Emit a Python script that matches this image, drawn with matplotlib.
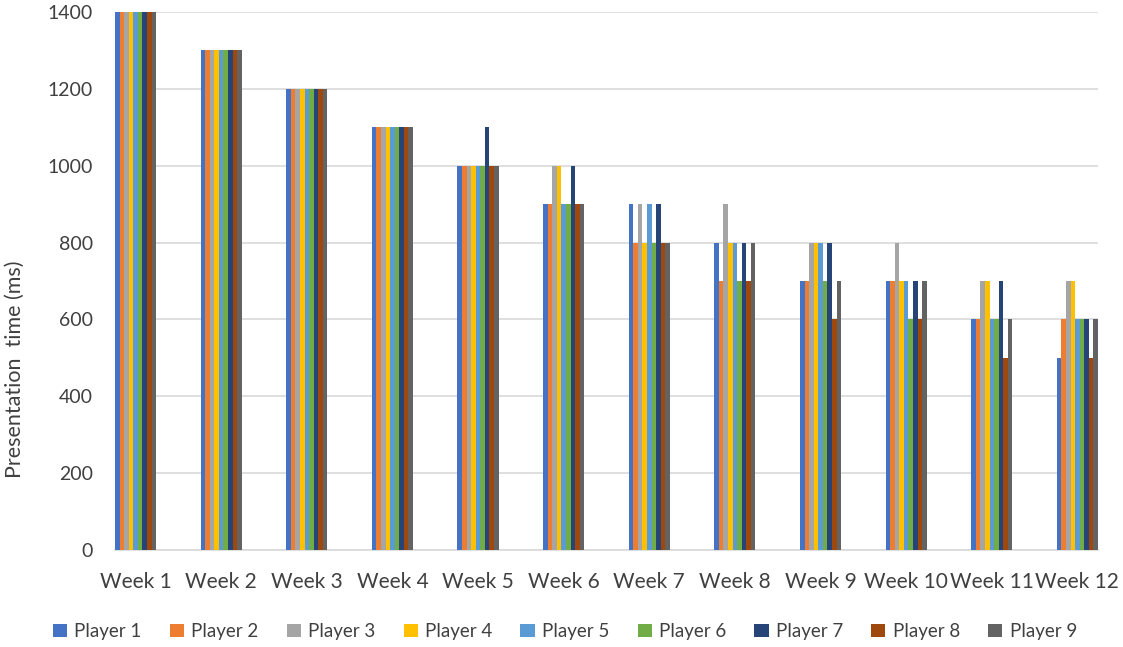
import numpy as np
import matplotlib
matplotlib.use("Agg")
import matplotlib.pyplot as plt

plt.rcParams['font.family'] = ['Lato', 'DejaVu Sans']

weeks = ['Week 1', 'Week 2', 'Week 3', 'Week 4', 'Week 5', 'Week 6',
         'Week 7', 'Week 8', 'Week 9', 'Week 10', 'Week 11', 'Week 12']
players = ['Player 1', 'Player 2', 'Player 3', 'Player 4', 'Player 5',
           'Player 6', 'Player 7', 'Player 8', 'Player 9']

# presentation time per week, one list per player
p1 = [1400, 1300, 1200, 1100, 1000, 900, 900, 800, 700, 700, 600, 500]
p2 = [1400, 1300, 1200, 1100, 1000, 900, 800, 700, 700, 700, 600, 600]
p3 = [1400, 1300, 1200, 1100, 1000, 1000, 900, 900, 800, 800, 700, 700]
p4 = [1400, 1300, 1200, 1100, 1000, 1000, 800, 800, 800, 700, 700, 700]
p5 = [1400, 1300, 1200, 1100, 1000, 900, 900, 800, 800, 700, 600, 600]
p6 = [1400, 1300, 1200, 1100, 1000, 900, 800, 700, 700, 600, 600, 600]
p7 = [1400, 1300, 1200, 1100, 1100, 1000, 900, 800, 800, 700, 700, 600]
p8 = [1400, 1300, 1200, 1100, 1000, 900, 800, 700, 600, 600, 500, 500]
p9 = [1400, 1300, 1200, 1100, 1000, 900, 800, 800, 700, 700, 600, 600]
data = [p1, p2, p3, p4, p5, p6, p7, p8, p9]

colors = ['#4472C4', '#ED7D31', '#A5A5A5', '#FFC000', '#5B9BD5',
          '#70AD47', '#264478', '#9E480E', '#636363']

fig = plt.figure(figsize=(11.23, 6.47), dpi=100)
ax = fig.add_axes([0.1024, 0.150, 0.8753, 0.8315])

x = np.arange(len(weeks))
group = 0.48
width = group / len(players)
for i, (vals, c) in enumerate(zip(data, colors)):
    offs = -group / 2 + width * (i + 0.5)
    ax.bar(x + offs, vals, width, color=c, label=players[i], zorder=3)

ax.set_xlim(-group / 2, len(weeks) - 1 + group / 2)
ax.set_ylim(0, 1400)
ax.set_yticks(range(0, 1401, 200))
ax.set_xticks(x)
ax.set_xticklabels(weeks)
ax.grid(axis='y', color='#D9D9D9', linewidth=1.2, zorder=0)
for s in ['top', 'right', 'left']:
    ax.spines[s].set_visible(False)
ax.spines['bottom'].set_color('#D9D9D9')
ax.spines['bottom'].set_linewidth(1.2)
ax.tick_params(axis='y', length=0, labelsize=14, colors='#404040', pad=16)
ax.tick_params(axis='x', length=0, labelsize=15, colors='#404040', pad=16)
ax.set_ylabel('Presentation  time (ms)', fontsize=15.5, color='#404040')
ax.yaxis.set_label_coords(-0.0916, 0.335)

fig.legend(loc='center', bbox_to_anchor=(0.503, 0.024), ncol=9, frameon=False,
           fontsize=13.5, handlelength=0.75, handleheight=0.75,
           handletextpad=0.4, columnspacing=1.5, labelcolor='#404040')

fig.savefig('out.png', dpi=100)
